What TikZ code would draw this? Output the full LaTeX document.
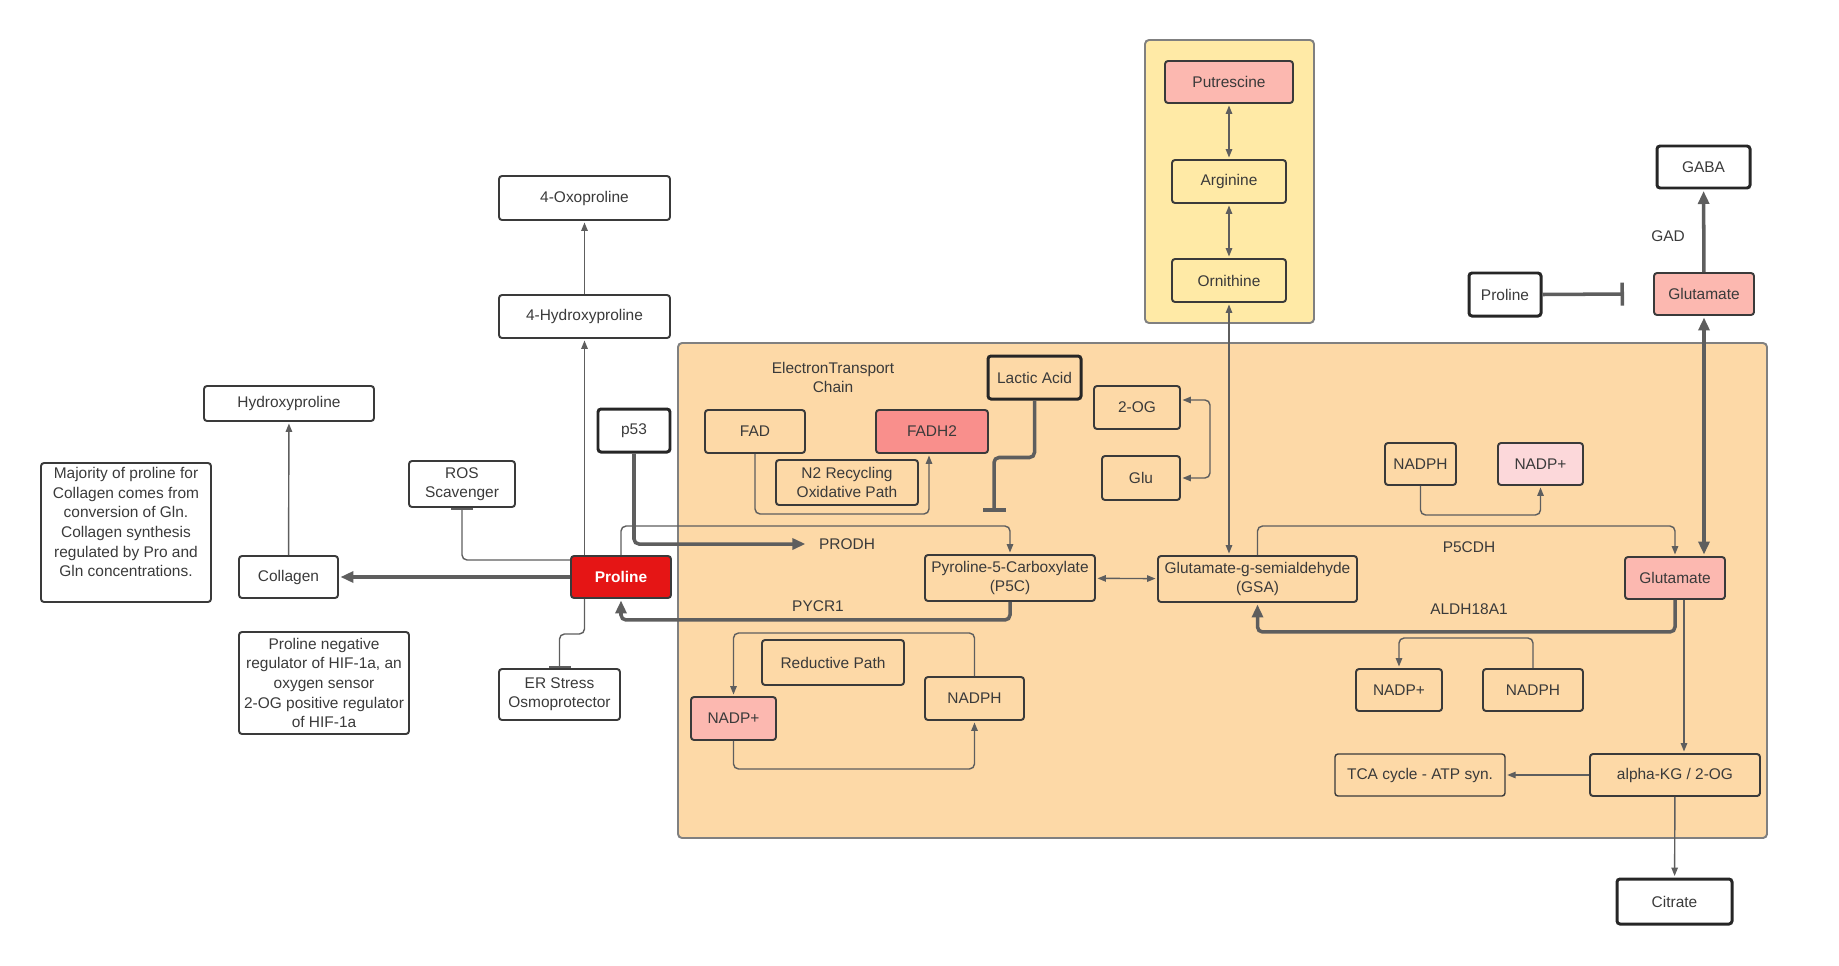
\documentclass[tikz,border=0pt]{standalone}
\usepackage{fontspec}
\setmainfont{Liberation Sans}
\usetikzlibrary{arrows.meta, fit}
\definecolor{panel}{HTML}{FDD9A7}
\definecolor{cream}{HTML}{FFEAA6}
\definecolor{rose}{HTML}{FCB8B0}
\definecolor{salmon}{HTML}{F98F8C}
\definecolor{blush}{HTML}{FCD8DA}
\definecolor{prored}{HTML}{E51515}
\definecolor{ink}{HTML}{3A3A3A}
\definecolor{wire}{HTML}{5E5E5E}
\tikzset{
    normal/.style={draw=ink, line width=1.1pt, rounded corners=0.6mm},
    box/.style={style=normal, inner sep=0, font=\fontsize{8.8}{10.8}\selectfont, text=ink, align=center},
    sz/.style 2 args={minimum width=#1*0.2mm, minimum height=#2*0.2mm}, % size in picture units
    hbox/.style={style=box, draw=black!85, line width=1.7pt}, % heavy border
    area/.style={draw=black!50, line width=1.1pt, rounded corners=0.8mm, inner sep=0}, % background regions
    lbl/.style={font=\fontsize{8.8}{10.8}\selectfont, text=ink, align=center},
    w/.style={draw=wire, line width=0.8pt, rounded corners=1mm},
    e/.style={style=w, -{Triangle[length=1.7mm, width=1.3mm]}, shorten >=0.3mm},
    de/.style={style=w, {Triangle[length=1.7mm, width=1.3mm]}-{Triangle[length=1.7mm, width=1.3mm]}, shorten >=0.3mm, shorten <=0.3mm},
    te/.style={style=w, line width=2pt, -{Triangle[length=2.6mm, width=2.2mm]}, shorten >=0.3mm}, % heavy edge
    tde/.style={style=te, {Triangle[length=2.6mm, width=2.2mm]}-{Triangle[length=2.6mm, width=2.2mm]}, shorten <=0.3mm},
    inh/.style={style=w, -{Bar[width=4.4mm, line width=1.2pt]}}, % inhibition
    tinh/.style={style=w, line width=2pt, -{Bar[width=4.6mm]}}
}

\begin{document}
\begin{tikzpicture}[x=0.2mm, y=-0.2mm]
        \useasboundingbox (0,0) rectangle (1839,965);

        \node[area, fill=cream, fit={(1145,40) (1314,323)}] (polyamine) {};
        \node[area, fill=panel, fit={(678,343) (1767,838)}] (mito) {};

        % outside the mitochondrion
        \node[box, sz={171}{44}] (oxo) at (584.5,198) {4-Oxoproline};
        \node[box, sz={171}{43}] (hyp4) at (584.5,316.5) {4-Hydroxyproline};
        \node[box, sz={170}{35}] (hypro) at (289,403.5) {Hydroxyproline};
        \node[box, sz={170}{139}] (note1) at (126,532.5) {};
        \node[lbl, anchor=north, font=\fontsize{8.8}{11.2}\selectfont] (note1_txt) at (126,461) {Majority of proline for\\Collagen comes from\\conversion of Gln.\\Collagen synthesis\\regulated by Pro and\\Gln concentrations.};
        \node[box, sz={99}{42}] (coll) at (288.5,577) {Collagen};
        \node[box, sz={106}{46}] (ros) at (462,484) {ROS\\Scavenger};
        \node[hbox, sz={72}{43}] (p53) at (634,430.5) {p53};
        \node[box, sz={100}{42}, fill=prored, text=white, font=\fontsize{8.8}{10.8}\selectfont\bfseries] (pro) at (621,577) {Proline};
        \node[box, sz={170}{102}, font=\fontsize{8.8}{11.2}\selectfont] (note2) at (324,683) {Proline negative\\regulator of HIF-1a, an\\oxygen sensor\\2-OG positive regulator\\of HIF-1a};
        \node[box, sz={121}{51}] (er) at (559.5,694.5) {ER Stress\\Osmoprotector};

        \node[box, sz={128}{42}, fill=rose] (put) at (1229,82) {Putrescine};
        \node[box, sz={114}{43}, fill=cream] (arg) at (1229,181.5) {Arginine};
        \node[box, sz={114}{43}, fill=cream] (orn) at (1229,280.5) {Ornithine};

        \node[hbox, sz={93}{42}] (gaba) at (1703.5,167) {GABA};
        \node[box, sz={100}{42}, fill=rose] (glut) at (1704,294) {Glutamate};
        \node[hbox, sz={72}{43}] (protr) at (1505,294.5) {Proline};
        \node[hbox, sz={115}{45}] (cit) at (1674.5,901.5) {Citrate};

        % inside the mitochondrion
        \node[lbl] (etc) at (833,377) {ElectronTransport\\Chain};
        \node[hbox, sz={93}{43}, fill=panel] (lac) at (1034.5,377.5) {Lactic Acid};
        \node[box, sz={100}{43}, fill=panel] (fad) at (755,431.5) {FAD};
        \node[box, sz={112}{43}, fill=salmon] (fadh) at (932,431.5) {FADH2};
        \node[box, sz={142}{45}, fill=panel] (n2) at (847,482.5) {N2 Recycling\\Oxidative Path};
        \node[box, sz={86}{43}, fill=panel] (og) at (1137,407.5) {2-OG};
        \node[box, sz={78}{44}, fill=panel] (glus) at (1141,478) {Glu};
        \node[box, sz={71}{42}, fill=panel] (nph1) at (1420.5,464) {NADPH};
        \node[box, sz={85}{42}, fill=blush] (np1) at (1540.5,464) {NADP+};

        \node[lbl] (prodh) at (847,544) {PRODH};
        \node[lbl] (pycr) at (818,606) {PYCR1};
        \node[lbl] (p5cdh) at (1469,547) {P5CDH};
        \node[lbl] (aldh) at (1469,609) {ALDH18A1};

        \node[box, sz={170}{46}, fill=panel] (p5c) at (1010,578) {Pyroline-5-Carboxylate\\(P5C)};
        \node[box, sz={199}{46}, fill=panel] (gsa) at (1257.5,579) {Glutamate-g-semialdehyde\\(GSA)};
        \node[box, sz={100}{42}, fill=rose] (glu) at (1675,578) {Glutamate};

        \node[box, sz={142}{45}, fill=panel] (redp) at (833,662.5) {Reductive Path};
        \node[box, sz={85}{43}, fill=rose] (npl) at (733.5,718.5) {NADP+};
        \node[box, sz={99}{43}, fill=panel] (nphl) at (974.5,698.5) {NADPH};
        \node[box, sz={86}{42}, fill=panel] (np2) at (1399,690) {NADP+};
        \node[box, sz={100}{42}, fill=panel] (nph2) at (1533,690) {NADPH};
        \node[box, sz={170}{42}, fill=panel, line width=0.8pt] (tca) at (1420,775) {TCA cycle - ATP syn.};
        \node[box, sz={170}{42}, fill=panel] (akg) at (1675,775) {alpha-KG / 2-OG};

        \node[lbl] (gad) at (1668,236) {GAD};

        \coordinate (lacbar) at (994,512);
        \coordinate (probar) at (1624,294);

        % connectors
        \draw[de] (put) -- (arg);
        \draw[de] (arg) -- (orn);
        \draw[de] (orn.south) -- (orn.south |- gsa.north);
        \draw[e] (hyp4) -- (oxo);
        \draw[e] (hyp4.south |- pro.north) -- (hyp4.south);
        \draw[e] (coll) -- (hypro);
        \draw[te] (pro.west) -- (coll.east);
        \draw[inh] ([yshift=3.4mm]pro.west) -| (ros.south);
        \draw[inh] (hyp4.south |- pro.south) -- ++(0,35) -| (er.north);
        \draw[te, shorten >=1.5mm] (p53.south) |- (prodh.west);
        \draw[e] (pro.north) -- ++(0,-29) -| (p5c.north);
        \draw[te] (p5c.south) -- ++(0,18) -| (pro.south);
        \draw[de] (p5c) -- (gsa);
        \draw[e] (gsa.north) -- ++(0,-29) -| (glu.north);
        \draw[te] (glu.south) -- ++(0,32) -| (gsa.south);
        \draw[e] ([xshift=1.8mm]glu.south) -- ([xshift=1.8mm]akg.north);
        \draw[e] (akg) -- (tca);
        \draw[e] (akg) -- (cit);
        \draw[tde] (glut.south) -- (glut.south |- glu.north);
        \draw[te] (glut) -- (gaba);
        \draw[tinh] (protr.east) -- (probar);
        \draw[tinh] (lac.south) -- ++(0,57) -| (lacbar);
        \draw[e] (fad.south) -- ++(0,60) -| ([xshift=-0.6mm]fadh.south);
        \draw[de] ([yshift=1.5mm]og.east) -- ++(29,0) |- (glus.east);
        \draw[e] (nph1.south) -- ++(0,29) -| (np1.south);
        \draw[e] (nph2.north) -- ++(0,-30) -| (np2.north);
        \draw[e] (nphl.north) -- ++(0,-43) -| (npl.north);
        \draw[e] (npl.south) -- ++(0,28) -| (nphl.south);
      \end{tikzpicture}
\end{document}
